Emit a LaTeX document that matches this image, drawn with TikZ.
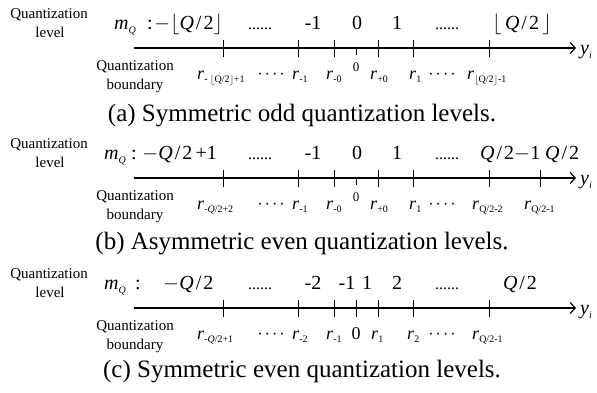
\documentclass[tikz,border=0pt]{standalone}
\usepackage{fontspec}
\setmainfont{Liberation Serif}
\usetikzlibrary{arrows.meta}
\newcommand{\sbs}[1]{\raisebox{-0.45ex}{\fontsize{10}{11}\selectfont #1}}
\newcommand{\rr}[1]{\textit{r}\sbs{#1}}
\newcommand{\mq}{\textit{m}\sbs{\textit{Q}}}
\newcommand{\fl}[1]{$\lfloor$#1$\rfloor$}
\newcommand{\qq}{\textit{Q}\kern2pt/\kern2pt2}
\newcommand{\mdots}{·\kern2pt·\kern2pt·\kern2pt·}
\tikzset{
  smalltxt/.style={font=\fontsize{15}{17}\selectfont, anchor=base, inner sep=0pt},
  lev/.style={font=\fontsize{20}{22}\selectfont, anchor=base, inner sep=0pt},
  bnd/.style={font=\fontsize{18}{20}\selectfont, anchor=base west, inner sep=0pt},
  dotstxt/.style={font=\fontsize{16}{18}\selectfont, anchor=base, inner sep=0pt},
  zero/.style={font=\fontsize{13}{15}\selectfont, anchor=base, inner sep=0pt},
  captxt/.style={font=\fontsize{25}{27}\selectfont, anchor=base, inner sep=0pt},
  axis/.style={line width=1.4pt, -{Straight Barb[length=5pt,width=11pt,line width=1.2pt]}},
  tickmark/.style={line width=0.8pt}
}
\begin{document}
\begin{tikzpicture}[x=1pt,y=-1pt]
\useasboundingbox (0,0) rectangle (597,392);
% ---------- panel a ----------
\begin{scope}
\node[smalltxt] (aql) at (49,18) {Quantization};
\node[smalltxt] (all) at (50,37) {level};
\node[smalltxt] (aqb) at (135,70) {Quantization};
\node[smalltxt] (abb) at (135,89) {boundary};
\node[lev,anchor=base west] (amq) at (114,29) {\mq};
\node[lev] (acol) at (150,29) {:};
\node[lev,anchor=base west] (amin) at (154,29) {$-$\fl{\qq}};
\node[dotstxt] (ad1) at (260,29) {......};
\node[lev] (al1) at (313,29) {-1};
\node[lev] (al2) at (357,29) {0};
\node[lev] (al3) at (397,29) {1};
\node[dotstxt] (ad2) at (447,29) {......};
\node[lev] (al4) at (522,29) {\fl{\,\qq\,}};
\coordinate (as) at (134,48);
\coordinate (ae) at (576,48);
\draw[axis] (as) -- (ae);
\node[lev,anchor=base west] (ay) at (580,54) {\textit{y}\sbs{\textit{i}}};
\foreach \x/\n in {223/1,298/2,334/3,378/4,413/5,489/6}{
  \coordinate (at\n) at (\x,48);
  \draw[tickmark] ([yshift=8pt]at\n) -- ([yshift=-9pt]at\n);
}
\coordinate (at0) at (356,48);
\draw[tickmark] (at0) -- ([yshift=-7pt]at0);
\node[bnd] (ab1) at (197,79) {\rr{- \fl{Q/2}+1}};
\node[dotstxt] (abd1) at (271,79) {\mdots};
\node[bnd] (ab2) at (292,79) {\rr{-1}};
\node[bnd] (ab3) at (326,79) {\rr{-0}};
\node[zero] (ab0) at (356,71) {0};
\node[bnd] (ab4) at (370,79) {\rr{+0}};
\node[bnd] (ab5) at (409,79) {\rr{1}};
\node[dotstxt] (abd2) at (442,79) {\mdots};
\node[bnd] (ab6) at (467,79) {\rr{\fl{Q/2}-1}};
\node[captxt] (acap) at (302,121) {(a) Symmetric odd quantization levels.};
\end{scope}
% ---------- panel b ----------
\begin{scope}[shift={(0,130)}]
\node[smalltxt] (bql) at (49,18) {Quantization};
\node[smalltxt] (bll) at (50,37) {level};
\node[smalltxt] (bqb) at (135,70) {Quantization};
\node[smalltxt] (bbb) at (135,89) {boundary};
\node[lev,anchor=base west] (bmq) at (104,29) {\mq};
\node[lev] (bcol) at (134,29) {:};
\node[lev,anchor=base west] (bmin) at (142,29) {$-$\qq\,+1};
\node[dotstxt] (bd1) at (260,29) {......};
\node[lev] (bl1) at (313,29) {-1};
\node[lev] (bl2) at (357,29) {0};
\node[lev] (bl3) at (397,29) {1};
\node[dotstxt] (bd2) at (447,29) {......};
\node[lev,anchor=base west] (bl4) at (480,29) {\qq$-$1};
\node[lev,anchor=base west] (bl5) at (545,29) {\qq};
\coordinate (bs) at (134,48);
\coordinate (be) at (576,48);
\draw[axis] (bs) -- (be);
\node[lev,anchor=base west] (by) at (580,54) {\textit{y}\sbs{\textit{i}}};
\foreach \x/\n in {223/1,298/2,334/3,378/4,413/5,489/6,540/7}{
  \coordinate (bt\n) at (\x,48);
  \draw[tickmark] ([yshift=8pt]bt\n) -- ([yshift=-9pt]bt\n);
}
\coordinate (bt0) at (356,48);
\draw[tickmark] (bt0) -- ([yshift=-7pt]bt0);
\node[bnd] (bb1) at (197,79) {\rr{-\textit{Q}/2+2}};
\node[dotstxt] (bbd1) at (271,79) {\mdots};
\node[bnd] (bb2) at (292,79) {\rr{-1}};
\node[bnd] (bb3) at (326,79) {\rr{-0}};
\node[zero] (bb0) at (356,71) {0};
\node[bnd] (bb4) at (370,79) {\rr{+0}};
\node[bnd] (bb5) at (409,79) {\rr{1}};
\node[dotstxt] (bbd2) at (442,79) {\mdots};
\node[bnd] (bb6) at (472,79) {\rr{Q/2-2}};
\node[bnd] (bb7) at (524,79) {\rr{Q/2-1}};
\node[captxt] (bcap) at (302,119) {(b) Asymmetric even quantization levels.};
\end{scope}
% ---------- panel c ----------
\begin{scope}[shift={(0,260)}]
\node[smalltxt] (cql) at (49,18) {Quantization};
\node[smalltxt] (cll) at (50,37) {level};
\node[smalltxt] (cqb) at (135,70) {Quantization};
\node[smalltxt] (cbb) at (135,89) {boundary};
\node[lev,anchor=base west] (cmq) at (104,29) {\mq};
\node[lev] (ccol) at (138,29) {:};
\node[lev,anchor=base west] (cmin) at (163,29) {$-$\qq};
\node[dotstxt] (cd1) at (260,29) {......};
\node[lev] (cl1) at (313,29) {-2};
\node[lev] (cl2) at (347,29) {-1};
\node[lev] (cl3) at (367,29) {1};
\node[lev] (cl4) at (397,29) {2};
\node[dotstxt] (cd2) at (447,29) {......};
\node[lev] (cl5) at (520,29) {\qq};
\coordinate (cs) at (134,48);
\coordinate (ce) at (576,48);
\draw[axis] (cs) -- (ce);
\node[lev,anchor=base west] (cy) at (580,54) {\textit{y}\sbs{\textit{i}}};
\foreach \x/\n in {223/1,298/2,334/3,356/0,378/4,413/5,489/6}{
  \coordinate (ct\n) at (\x,48);
  \draw[tickmark] ([yshift=8pt]ct\n) -- ([yshift=-9pt]ct\n);
}
\node[bnd] (cb1) at (197,79) {\rr{-\textit{Q}/2+1}};
\node[dotstxt] (cbd1) at (271,79) {\mdots};
\node[bnd] (cb2) at (292,79) {\rr{-2}};
\node[bnd] (cb3) at (326,79) {\rr{-1}};
\node[bnd,anchor=base] (cb0) at (356,79) {0};
\node[bnd] (cb4) at (371,79) {\rr{1}};
\node[bnd] (cb5) at (407,79) {\rr{2}};
\node[dotstxt] (cbd2) at (442,79) {\mdots};
\node[bnd] (cb6) at (472,79) {\rr{Q/2-1}};
\node[captxt] (ccap) at (302,117) {(c) Symmetric even quantization levels.};
\end{scope}
\end{tikzpicture}
\end{document}
